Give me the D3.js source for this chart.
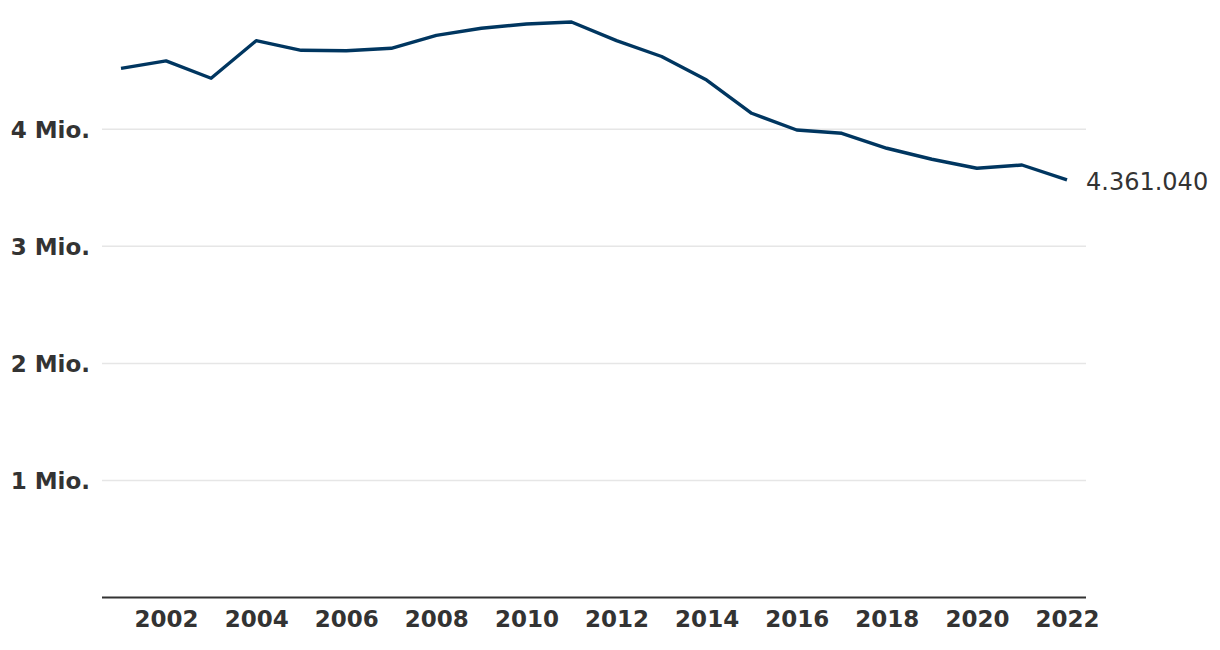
<!DOCTYPE html>
<html>
<head>
<meta charset="utf-8">
<script src="https://cdn.jsdelivr.net/npm/d3@7"></script>
<style>
  html, body { margin: 0; padding: 0; background: #fff; }
  svg { display: block; font-family: "DejaVu Sans", Verdana, sans-serif; }
</style>
</head>
<body>
<svg id="chart" width="1220" height="650"></svg>
<script>
const years = [2001, 2002, 2003, 2004, 2005, 2006, 2007, 2008, 2009, 2010, 2011,
               2012, 2013, 2014, 2015, 2016, 2017, 2018, 2019, 2020, 2021, 2022];
const values = [4521000, 4584000, 4436000, 4757000, 4675000, 4671000, 4692000, 4803000,
                4863000, 4900000, 4917000, 4757000, 4622000, 4421000, 4137000, 3994000,
                3966000, 3838000, 3744000, 3667000, 3695000, 3567000];
const yTicks = [1000000, 2000000, 3000000, 4000000];
const yTickLabels = ["1 Mio.", "2 Mio.", "3 Mio.", "4 Mio."];
const xTicks = [2002, 2004, 2006, 2008, 2010, 2012, 2014, 2016, 2018, 2020, 2022];
const endLabel = "4.361.040";

const svg = d3.select("#chart");
const plotLeft = 102, plotRight = 1086;
const x = d3.scaleLinear().domain([2001, 2022]).range([121, 1067]);
const y = d3.scaleLinear().domain([0, 4000000]).range([597.5, 129.3]);

// gridlines
svg.append("g").selectAll("line").data(yTicks).join("line")
  .attr("x1", plotLeft).attr("x2", plotRight)
  .attr("y1", d => y(d)).attr("y2", d => y(d))
  .attr("stroke", "#e6e6e6").attr("stroke-width", 1.5);

// y labels
svg.append("g").selectAll("text").data(yTicks).join("text")
  .attr("x", 90).attr("y", d => y(d))
  .attr("dy", "0.36em")
  .attr("text-anchor", "end")
  .attr("font-size", 23).attr("font-weight", "bold").attr("fill", "#333")
  .text((d, i) => yTickLabels[i]);

// x axis
const xAxis = d3.axisBottom(x).tickValues(xTicks).tickFormat(d3.format("d")).tickSize(0).tickPadding(13);
const gx = svg.append("g").attr("transform", `translate(0,${y(0)})`).call(xAxis);
gx.select(".domain").remove();
gx.selectAll("text").attr("font-size", 23).attr("font-weight", "bold").attr("fill", "#333")
  .attr("font-family", "'DejaVu Sans', Verdana, sans-serif");
svg.append("line")
  .attr("x1", plotLeft).attr("x2", plotRight)
  .attr("y1", y(0)).attr("y2", y(0))
  .attr("stroke", "#333").attr("stroke-width", 2);

// line
const line = d3.line().x((d, i) => x(years[i])).y(d => y(d));
svg.append("path").datum(values)
  .attr("d", line)
  .attr("fill", "none").attr("stroke", "#003660").attr("stroke-width", 3.4)
  .attr("stroke-linejoin", "round");

// end label
svg.append("text")
  .attr("x", x(years[years.length - 1]) + 19)
  .attr("y", y(values[values.length - 1]) + 1)
  .attr("dy", "0.36em")
  .attr("font-size", 24).attr("fill", "#333")
  .text(endLabel);
</script>
</body>
</html>
